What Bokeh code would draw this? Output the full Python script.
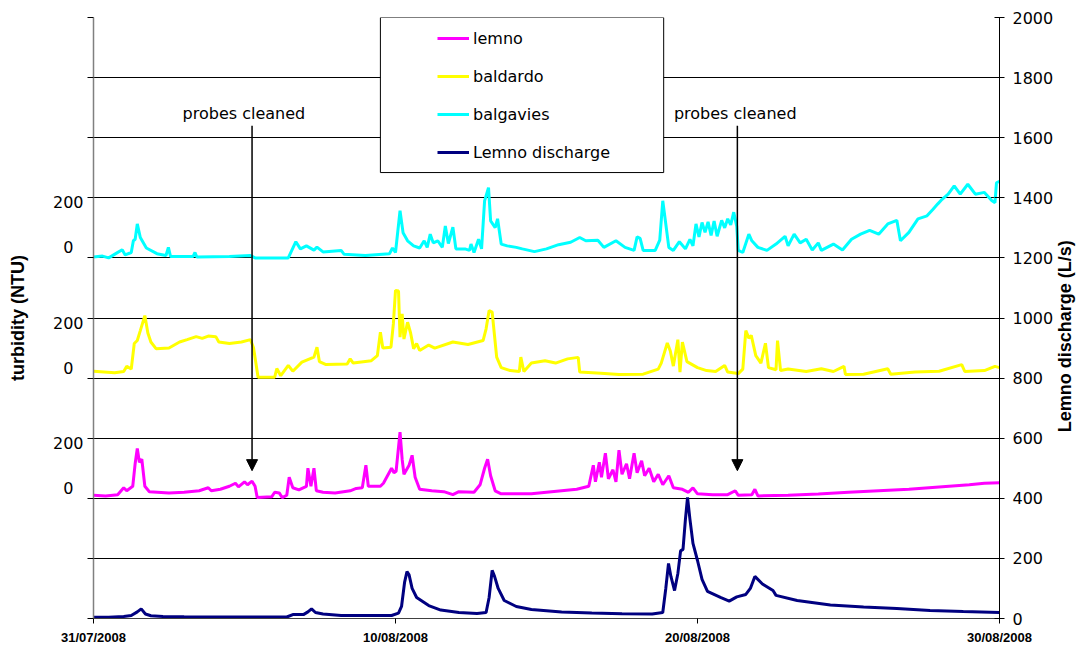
import math
import pandas as pd
from bokeh.plotting import figure
from bokeh.models import (Range1d, LinearAxis, FixedTicker, DatetimeTickFormatter, Label,
                          Arrow, NormalHead, Legend, LegendItem, BoxAnnotation, ColumnDataSource)
from bokeh.embed import file_html
from bokeh.resources import INLINE

# ---------------- data (days since 31/07/2008 00:00) ----------------
start_date = "2008-07-31"
x_tick_days = [0, 10, 20, 30]

discharge_days = [0, 0.5, 1.0, 1.25, 1.45, 1.58, 1.72, 1.9, 2.3, 3.0, 4.0, 5.0, 6.0, 6.4, 6.6, 6.95, 7.1, 7.22,
                  7.35, 7.6, 8.2, 9.0, 9.87, 10.1, 10.2, 10.3, 10.38, 10.45, 10.55, 10.7, 11.1, 11.5, 12.1, 12.7,
                  13.0, 13.1, 13.2, 13.28, 13.4, 13.6, 14.0, 14.5, 15.5, 16.5, 17.5, 18.5, 18.85, 18.95, 19.04,
                  19.12, 19.24, 19.35, 19.44, 19.52, 19.6, 19.67, 19.75, 19.85, 20.0, 20.15, 20.33, 20.76, 21.05,
                  21.3, 21.6, 21.75, 21.9, 22.15, 22.5, 22.6, 23.3, 24.4, 25.5, 26.6, 27.7, 28.8, 30.0]
discharge_vals = [4, 4, 7, 10, 22, 32, 15, 9, 7, 6, 5, 5, 5, 5, 13, 13, 22, 32,
                  20, 15, 10, 10, 10, 18, 40, 120, 156, 145, 100, 70, 43, 28, 20, 17,
                  20, 70, 160, 140, 100, 60, 40, 30, 22, 18, 16, 15, 20, 100, 183,
                  140, 93, 150, 225, 230, 330, 403, 330, 250, 193, 130, 90, 70, 58,
                  72, 80, 100, 140, 115, 93, 77, 60, 45, 38, 33, 27, 23, 20]

lemno_days = [0, 0.4, 0.8, 1.0, 1.1, 1.3, 1.38, 1.45, 1.52, 1.6, 1.7, 1.85, 2.5, 3.0, 3.5, 3.8, 3.9, 4.2, 4.5,
              4.7, 4.8, 5.0, 5.1, 5.25, 5.35, 5.42, 5.9, 6.0, 6.15, 6.25, 6.4, 6.48, 6.6, 6.8, 7.05, 7.1, 7.2,
              7.3, 7.38, 7.6, 8.0, 8.5, 8.7, 8.9, 9.02, 9.1, 9.5, 9.6, 9.87, 9.95, 10.02, 10.15, 10.22, 10.28,
              10.45, 10.55, 10.65, 10.8, 11.2, 11.6, 11.9, 12.1, 12.6, 12.8, 12.95, 13.05, 13.15, 13.3, 13.5,
              14.5, 15.5, 16.0, 16.4, 16.55, 16.62, 16.75, 16.82, 16.95, 17.05, 17.2, 17.3, 17.4, 17.5, 17.65,
              17.75, 17.9, 18.0, 18.15, 18.25, 18.4, 18.55, 18.7, 18.85, 19.05, 19.2, 19.5, 19.7, 19.85, 20.0,
              20.5, 21.0, 21.25, 21.35, 21.8, 21.9, 22.0, 23.0, 24.0, 25.0, 26.0, 27.0, 28.0, 29.0, 29.5, 30.0]
lemno_vals = [10, 8, 12, 35, 25, 40, 116, 166, 120, 130, 40, 22, 18, 20, 25, 35, 25, 30, 40,
              50, 38, 55, 45, 57, 40, 3, 5, 20, 18, 2, 10, 70, 35, 28, 40, 100, 40,
              100, 25, 20, 18, 25, 33, 35, 110, 40, 40, 50, 100, 85, 90, 220, 130, 80,
              110, 143, 70, 30, 25, 22, 12, 22, 20, 45, 100, 130, 75, 25, 15,
              15, 25, 30, 40, 110, 55, 120, 70, 150, 65, 95, 55, 160, 80, 115,
              65, 150, 85, 125, 75, 100, 55, 80, 45, 75, 35, 30, 20, 35, 15,
              12, 12, 25, 10, 12, 30, 8, 10, 14, 20, 25, 30, 38, 45, 50, 52]

baldardo_days = [0, 0.7, 1.0, 1.1, 1.25, 1.35, 1.45, 1.55, 1.7, 1.8, 1.9, 2.07, 2.5, 2.85, 3.1, 3.4, 3.6, 3.8,
                 4.05, 4.15, 4.5, 4.9, 5.2, 5.3, 5.45, 6.0, 6.07, 6.2, 6.45, 6.6, 6.9, 7.3, 7.4, 7.48, 7.7, 8.4,
                 8.5, 8.6, 9.2, 9.4, 9.5, 9.58, 9.85, 9.93, 10.0, 10.1, 10.15, 10.22, 10.28, 10.4, 10.5, 10.6,
                 10.7, 10.8, 11.1, 11.3, 11.9, 12.4, 12.9, 13.0, 13.1, 13.2, 13.35, 13.5, 13.8, 14.1, 14.15,
                 14.25, 14.5, 14.95, 15.3, 15.7, 16.05, 16.1, 16.8, 17.4, 18.2, 18.7, 18.8, 19.0, 19.1, 19.2,
                 19.35, 19.42, 19.5, 19.65, 20.0, 20.3, 20.6, 20.9, 21.0, 21.35, 21.5, 21.6, 21.7, 21.78, 21.93,
                 22.1, 22.25, 22.35, 22.6, 22.65, 22.75, 23.0, 23.6, 24.1, 24.5, 24.85, 24.9, 25.5, 26.3, 26.4,
                 27.2, 28.0, 28.75, 28.85, 29.5, 29.85, 30.0]
baldardo_vals = [23, 18, 22, 39, 30, 115, 125, 158, 208, 150, 120, 98, 100, 120, 128, 138, 132, 140,
                 138, 120, 115, 120, 128, 100, 3, 3, 32, 8, 42, 23, 53, 70, 103, 55, 45, 47,
                 64, 50, 58, 75, 153, 100, 103, 181, 292, 290, 136, 214, 130, 186, 150, 98,
                 115, 92, 110, 100, 120, 112, 125, 164, 225, 220, 70, 35, 25, 22, 70,
                 22, 50, 58, 50, 64, 69, 20, 16, 12, 13, 30, 50, 117, 90, 40,
                 128, 20, 120, 55, 35, 25, 22, 42, 20, 15, 30, 158, 133, 142, 75,
                 50, 116, 35, 28, 125, 25, 30, 22, 31, 22, 39, 12, 13, 31, 13,
                 20, 23, 45, 22, 25, 39, 35]

balgavies_days = [0, 0.3, 0.5, 0.75, 0.95, 1.05, 1.25, 1.32, 1.38, 1.45, 1.55, 1.75, 2.1, 2.4, 2.48, 2.55, 3.3,
                  3.36, 3.42, 4.5, 5.2, 5.35, 6.45, 6.7, 6.85, 7.05, 7.3, 7.4, 7.6, 8.2, 8.3, 9.0, 9.8, 9.9,
                  10.0, 10.15, 10.25, 10.4, 10.6, 10.8, 10.95, 11.05, 11.15, 11.25, 11.4, 11.55, 11.65, 11.75,
                  11.9, 12.0, 12.3, 12.45, 12.5, 12.6, 12.75, 12.85, 12.95, 13.08, 13.15, 13.3, 13.38, 13.5,
                  13.7, 14.0, 14.2, 14.6, 15.0, 15.4, 15.8, 16.1, 16.3, 16.7, 16.9, 17.3, 17.6, 17.9, 18.0,
                  18.1, 18.2, 18.6, 18.75, 18.85, 18.95, 19.05, 19.2, 19.4, 19.6, 19.75, 19.85, 19.95, 20.05,
                  20.15, 20.25, 20.35, 20.45, 20.55, 20.65, 20.8, 20.9, 21.0, 21.1, 21.2, 21.3, 21.35, 21.5,
                  21.7, 21.8, 22.0, 22.3, 22.6, 22.9, 23.0, 23.2, 23.4, 23.6, 23.8, 24.0, 24.1, 24.5, 24.8,
                  25.1, 25.4, 25.7, 26.0, 26.3, 26.6, 26.72, 27.0, 27.3, 27.6, 27.8, 27.95, 28.1, 28.3, 28.5,
                  28.7, 28.95, 29.2, 29.5, 29.75, 29.85, 29.9, 30.0]
balgavies_vals = [3, 6, 0, 15, 27, 10, 18, 57, 62, 113, 68, 33, 14, 8, 35, 5, 5,
                  18, 3, 5, 8, 0, 0, 54, 30, 40, 26, 36, 20, 25, 12, 8, 14, 33,
                  18, 157, 84, 57, 40, 33, 57, 35, 79, 50, 57, 35, 106, 48,
                  102, 30, 30, 25, 46, 18, 62, 30, 190, 234, 123, 101, 130, 46,
                  40, 35, 30, 21, 30, 44, 52, 68, 57, 59, 35, 57, 35, 25, 70,
                  65, 25, 25, 59, 190, 113, 35, 25, 54, 30, 62, 40, 113, 70,
                  118, 85, 120, 75, 123, 72, 125, 100, 130, 110, 152, 105, 25, 18,
                  79, 57, 35, 25, 46, 72, 40, 79, 50, 62, 26, 50, 25, 46, 26,
                  62, 79, 92, 79, 113, 125, 57, 85, 130, 140, 162, 179, 195, 212, 240,
                  212, 245, 212, 218, 190, 184, 250, 255]

series_names = ["lemno", "baldardo", "balgavies", "Lemno discharge"]
series_colors = ["#FF00FF", "#FFFF00", "#00FFFF", "#000080"]
turbidity_offsets = {"lemno": 400, "baldardo": 800, "balgavies": 1200}   # stacking of the turbidity panels
discharge_ticks = list(range(0, 2001, 200))
turbidity_ticks = [0, 200]
turbidity_label_text = {0: "\u20070\u2007", 200: "200"}   # "0" centred under "200" as in the original
turbidity_label_shift = {0: 33, 200: -17}                # label nudges (in axis units) as in the original
right_title = "Lemno discharge (L/s)"
right_title_anchor = 620
left_title = "turbidity (NTU)"
annotation_text = "probes cleaned"
cleaning_days = [5.25, 21.32]
annotation_label_days = [4.98, 21.25]

# ---------------- helpers ----------------
START = pd.Timestamp(start_date)


def to_dt(days):
    return (START + pd.to_timedelta(days, unit="D")).values


def ms(day):
    return (START + pd.Timedelta(days=day)).value / 1e6


FONT = "DejaVu Sans"
BFONT = "Liberation Sans"

p = figure(width=1088, height=648, x_axis_type="datetime", y_axis_location="right",
           output_backend="svg", toolbar_location=None,
           x_range=Range1d(ms(0), ms(30)), y_range=Range1d(0, 2000),
           min_border_left=93, min_border_right=85, min_border_top=17, min_border_bottom=30,
           background_fill_color="white", border_fill_color="white")
p.outline_line_color = None

for name, off in turbidity_offsets.items():
    p.extra_y_ranges[name] = Range1d(-off, 2000 - off)

# right axis (discharge)
ra = p.yaxis[0]
ra.ticker = FixedTicker(ticks=discharge_ticks)
ra.major_label_text_font = FONT
ra.major_label_text_font_size = "16px"
ra.major_label_text_color = "black"
ra.major_label_standoff = 8
ra.major_tick_in = 5
ra.major_tick_out = 5
ra.minor_tick_line_color = None
ra.axis_line_color = "black"
ra.major_tick_line_color = "black"

# right title, reading bottom-to-top
rt = LinearAxis(ticker=FixedTicker(ticks=[right_title_anchor]),
                major_label_overrides={right_title_anchor: right_title},
                major_label_orientation=math.pi / 2)
rt.axis_line_color = None
rt.major_tick_line_color = None
rt.minor_tick_line_color = None
rt.major_tick_in = 0
rt.major_tick_out = 0
rt.major_label_standoff = 9
rt.major_label_text_font = BFONT
rt.major_label_text_font_style = "bold"
rt.major_label_text_font_size = "18px"
rt.major_label_text_color = "black"
rt.major_label_text_baseline = "top"
rt.major_label_text_align = "left"
p.add_layout(rt, "right")

# left axis: tick marks
la = LinearAxis(ticker=FixedTicker(ticks=discharge_ticks),
                major_label_overrides={t: "" for t in discharge_ticks})
la.major_label_standoff = 0
la.major_tick_in = 0
la.major_tick_out = 6
la.minor_tick_line_color = None
la.axis_line_color = "#808080"
la.axis_line_width = 1.5
la.major_tick_line_color = "black"
p.add_layout(la, "left")

# left axis: turbidity labels for each stacked panel + title
lab_pos = {}
for name, off in turbidity_offsets.items():
    for t in turbidity_ticks:
        lab_pos[off + t + turbidity_label_shift[t]] = turbidity_label_text[t]
ll = LinearAxis(ticker=FixedTicker(ticks=sorted(lab_pos)), major_label_overrides=lab_pos)
ll.axis_line_color = None
ll.major_tick_line_color = None
ll.minor_tick_line_color = None
ll.major_tick_in = 0
ll.major_tick_out = 0
ll.major_label_standoff = 4
ll.major_label_text_font = FONT
ll.major_label_text_font_size = "16px"
ll.major_label_text_color = "black"
ll.axis_label = left_title
ll.axis_label_text_font = BFONT
ll.axis_label_text_font_style = "bold"
ll.axis_label_text_font_size = "18px"
ll.axis_label_text_color = "black"
ll.axis_label_standoff = 22
p.add_layout(ll, "left")

# x axis
xa = p.xaxis[0]
xa.ticker = FixedTicker(ticks=[ms(d) for d in x_tick_days])
fmt = "%d/%m/%Y"
xa.formatter = DatetimeTickFormatter(microseconds=fmt, milliseconds=fmt, seconds=fmt, minsec=fmt,
                                     minutes=fmt, hourmin=fmt, hours=fmt, days=fmt, months=fmt, years=fmt)
xa.major_label_text_font = BFONT
xa.major_label_text_font_style = "bold"
xa.major_label_text_font_size = "13px"
xa.major_label_text_color = "black"
xa.major_label_standoff = 6
xa.major_tick_in = 0
xa.major_tick_out = 5
xa.minor_tick_line_color = None
xa.axis_line_color = "#404040"
xa.major_tick_line_color = "black"

p.xgrid.visible = False
p.ygrid.ticker = FixedTicker(ticks=discharge_ticks)
p.ygrid.grid_line_color = "black"
p.ygrid.grid_line_width = 1

# series
renderers = {}
for name, days, vals, color in [("lemno", lemno_days, lemno_vals, series_colors[0]),
                                ("baldardo", baldardo_days, baldardo_vals, series_colors[1]),
                                ("balgavies", balgavies_days, balgavies_vals, series_colors[2])]:
    src = ColumnDataSource(dict(t=to_dt(days), v=vals))
    renderers[name] = p.line("t", "v", source=src, line_color=color, line_width=3, y_range_name=name)

src_q = ColumnDataSource(dict(t=to_dt(discharge_days), v=discharge_vals))
renderers["Lemno discharge"] = p.line("t", "v", source=src_q, line_color=series_colors[3], line_width=3)

# cleaning annotations
for d, dl in zip(cleaning_days, annotation_label_days):
    p.add_layout(Arrow(end=NormalHead(size=11, fill_color="black", line_color="black"),
                       x_start=ms(d), y_start=1640, x_end=ms(d), y_end=492,
                       line_color="black", line_width=1.5))
    p.add_layout(Label(x=ms(dl), y=1680, text=annotation_text, text_align="center",
                       text_baseline="middle", text_font=FONT, text_font_size="16px", text_color="black"))

# legend
box = BoxAnnotation(left=ms(9.5), right=ms(18.88), bottom=1484, top=2000,
                    fill_color="white", fill_alpha=1.0, line_color="black", line_width=1, line_alpha=1.0)
p.add_layout(box)
legend = Legend(items=[LegendItem(label=n, renderers=[renderers[n]]) for n in series_names],
                location=(344, 456), border_line_color=None, background_fill_alpha=0,
                padding=0, margin=0, spacing=18, glyph_width=32, glyph_height=20, label_height=20,
                label_standoff=4, label_text_font=FONT, label_text_font_size="16px",
                label_text_color="black")
p.add_layout(legend)

open("out.html", "w").write(file_html(p, INLINE))
